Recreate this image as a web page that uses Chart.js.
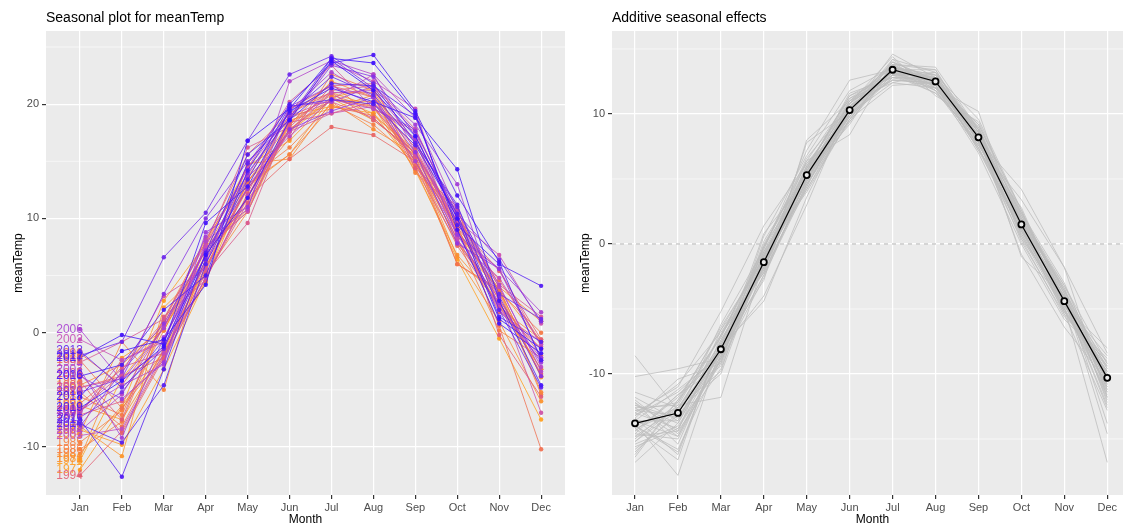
<!DOCTYPE html>
<html>
<head>
<meta charset="utf-8">
<script src="https://cdn.jsdelivr.net/npm/chart.js@4.4.0/dist/chart.umd.min.js"></script>
<style>
  html, body { margin: 0; padding: 0; background: #fff; overflow: hidden; width: 1123px; height: 527px; }
  canvas { position: absolute; top: 0; }
  #seasonal { left: 0; }
  #effects { left: 575px; }
</style>
</head>
<body>
<canvas id="seasonal" width="575" height="527"></canvas>
<canvas id="effects" width="568" height="527"></canvas>
<script>
const months = ['Jan', 'Feb', 'Mar', 'Apr', 'May', 'Jun', 'Jul', 'Aug', 'Sep', 'Oct', 'Nov', 'Dec'];

const years = [1976, 1977, 1978, 1979, 1980, 1981, 1982, 1983, 1984, 1985, 1986, 1987, 1988, 1989, 1990,
  1991, 1992, 1993, 1994, 1995, 1996, 1997, 1998, 1999, 2000, 2001, 2002, 2003, 2004, 2005, 2006, 2007,
  2008, 2009, 2010, 2011, 2012, 2013, 2014, 2015, 2016, 2017, 2018, 2019];

// monthly mean temperature, one row per year
const meanTemp = [
  [-11.2, -4.0, 0.5, 7.4, 10.8, 19.0, 19.8, 19.2, 14.4, 6.4, -0.5, -7.6],
  [-12.0, -6.5, 2.8, 7.8, 14.6, 16.8, 20.5, 18.6, 15.8, 7.8, 3.8, -3.9],
  [-8.5, -9.8, -3.2, 4.6, 13.2, 17.6, 20.4, 20.2, 15.0, 8.2, 2.4, -3.2],
  [-8.2, -10.8, 2.2, 5.8, 12.0, 17.8, 20.6, 19.2, 15.6, 8.8, 3.8, -0.8],
  [-6.4, -7.6, -1.6, 5.6, 12.8, 15.6, 20.6, 21.4, 15.4, 6.6, 1.0, -6.0],
  [-11.0, -2.2, 0.2, 6.8, 11.8, 18.2, 21.0, 19.8, 14.2, 6.8, 2.6, -3.2],
  [-10.6, -6.4, -1.6, 4.4, 14.8, 15.2, 20.2, 17.8, 15.6, 10.2, 4.0, 1.0],
  [-4.6, -2.8, 0.6, 5.2, 10.6, 18.2, 22.0, 20.6, 16.8, 9.0, 3.8, -5.2],
  [-8.8, -0.8, -5.0, 7.2, 10.6, 18.6, 19.6, 20.8, 14.0, 10.8, 2.2, -0.6],
  [-9.6, -6.8, 0.2, 7.2, 13.0, 15.6, 19.8, 19.0, 16.0, 9.0, 3.6, -5.4],
  [-10.2, -7.8, 0.8, 7.4, 13.4, 16.2, 20.0, 18.2, 15.0, 8.2, 0.2, -2.2],
  [-5.6, -7.2, 1.2, 8.2, 13.6, 19.0, 21.8, 18.8, 15.4, 6.0, 3.6, 0.0],
  [-5.2, -8.2, -1.4, 5.8, 12.6, 17.0, 22.6, 21.2, 15.0, 6.0, 3.8, -3.8],
  [-2.4, -6.6, -2.0, 5.4, 13.2, 18.4, 20.8, 19.6, 15.6, 9.4, 0.6, -10.2],
  [-1.8, -4.6, 0.4, 7.4, 11.2, 17.8, 20.4, 19.8, 15.0, 9.2, 4.6, -0.8],
  [-6.2, -3.2, 1.0, 8.0, 15.6, 19.2, 21.0, 21.0, 14.6, 9.6, 2.8, -2.0],
  [-4.8, -3.8, -2.2, 4.8, 11.8, 15.2, 18.0, 17.3, 15.0, 7.6, 2.4, -1.4],
  [-4.2, -8.8, -2.2, 6.4, 12.6, 17.6, 21.6, 20.6, 14.4, 7.8, 3.0, -3.6],
  [-12.5, -8.6, -2.0, 6.2, 11.8, 19.6, 21.0, 18.6, 15.8, 9.6, 5.4, -0.6],
  [-3.6, -7.6, 1.4, 4.6, 12.2, 19.6, 21.6, 21.8, 14.4, 11.0, -0.2, -5.6],
  [-7.2, -6.0, -2.4, 4.8, 11.4, 18.4, 19.2, 20.2, 16.2, 9.0, 1.8, -0.8],
  [-7.0, -3.0, -1.8, 5.2, 9.6, 18.8, 20.2, 18.8, 15.4, 8.8, 2.0, -1.4],
  [-2.6, -0.8, 1.2, 7.8, 16.2, 18.0, 21.2, 21.6, 17.8, 10.2, 4.2, 1.4],
  [-7.0, -2.4, -0.6, 7.6, 14.4, 20.2, 23.4, 19.6, 17.6, 8.4, 5.6, -1.2],
  [-6.8, -3.6, 3.2, 5.6, 12.8, 17.6, 19.2, 19.8, 15.6, 9.8, 3.0, -7.0],
  [-4.8, -4.0, -1.4, 7.6, 14.4, 19.0, 20.4, 22.6, 15.8, 9.8, 6.8, 0.8],
  [-0.6, -2.4, -0.8, 7.4, 10.6, 18.8, 23.6, 22.0, 19.6, 8.2, 2.2, -2.2],
  [-9.0, -8.4, -1.8, 4.8, 12.0, 17.6, 21.0, 21.2, 16.8, 8.0, 4.8, -1.0],
  [-8.6, -5.4, 0.6, 6.6, 13.6, 17.2, 20.4, 19.6, 17.8, 10.0, 4.0, -3.0],
  [-6.8, -4.6, -2.8, 8.0, 10.8, 22.0, 23.8, 22.6, 18.8, 10.6, 4.2, -3.4],
  [0.3, -4.2, 0.4, 8.4, 13.8, 19.4, 22.8, 20.6, 15.0, 8.6, 5.6, 1.8],
  [-3.2, -9.2, -0.4, 6.0, 14.8, 19.8, 20.2, 21.6, 18.2, 13.0, 2.0, -2.4],
  [-3.8, -5.8, -2.6, 8.8, 11.0, 19.8, 21.6, 20.0, 17.0, 8.6, 2.6, -2.6],
  [-8.2, -3.4, 0.8, 7.2, 12.6, 17.8, 19.4, 20.6, 15.8, 7.8, 5.6, -2.2],
  [-5.2, -4.0, 3.4, 10.0, 15.0, 18.6, 23.4, 22.4, 17.2, 10.0, 3.2, -3.8],
  [-7.4, -5.2, -0.6, 6.8, 14.0, 18.8, 24.0, 21.4, 17.6, 10.4, 6.4, 1.0],
  [-2.0, -0.8, 6.6, 10.5, 16.8, 22.6, 24.2, 21.8, 16.6, 11.0, 3.4, 1.2],
  [-1.6, -4.8, -1.4, 6.4, 14.8, 19.2, 22.4, 20.8, 16.6, 11.2, 2.0, -4.8],
  [-8.0, -9.6, -4.6, 6.0, 13.4, 19.8, 20.4, 20.0, 16.4, 10.4, 1.4, -0.8],
  [-7.6, -12.6, -3.2, 7.0, 15.6, 18.6, 21.8, 21.6, 19.0, 9.4, 6.0, 4.1],
  [-3.8, -2.8, 2.0, 5.0, 14.2, 20.0, 23.6, 24.3, 19.4, 12.0, 6.2, -2.4],
  [-2.2, -0.2, -1.0, 9.6, 12.8, 19.4, 21.4, 20.2, 18.8, 14.3, 2.8, -4.6],
  [-5.6, -1.6, -0.6, 4.2, 16.8, 19.6, 24.0, 23.6, 19.2, 9.0, 0.8, -1.8],
  [-6.6, -4.2, -1.2, 6.8, 11.8, 18.6, 23.8, 21.2, 17.2, 10.0, 1.2, -1.4]
];

// seasonal effect estimated for each year
const yearlyEffect = [
  [-15.2, -12.4, -7.0, -2.2, 4.6, 10.0, 13.0, 12.8, 8.8, 1.2, -4.8, -9.6],
  [-12.6, -14.8, -8.8, -0.6, 6.0, 10.8, 13.8, 12.0, 7.6, 2.0, -3.8, -11.2],
  [-13.4, -16.2, -7.4, -1.8, 5.8, 11.2, 13.2, 12.2, 8.0, 0.8, -5.0, -9.8],
  [-14.6, -11.6, -9.4, -0.8, 4.2, 9.6, 13.6, 13.0, 8.6, 1.8, -3.6, -10.8],
  [-11.8, -13.6, -8.0, -4.4, 3.6, 10.4, 12.6, 12.4, 9.2, 2.6, -4.2, -11.8],
  [-16.4, -12.0, -6.6, -1.0, 6.4, 8.4, 14.0, 11.8, 7.4, 0.4, -5.6, -8.8],
  [-13.0, -14.2, -9.0, 0.2, 5.6, 11.6, 12.8, 12.6, 8.4, 1.4, -4.4, -12.6],
  [-14.2, -12.8, -8.4, -1.6, 4.8, 10.2, 13.4, 13.4, 7.8, 2.2, -3.2, -9.2],
  [-12.2, -15.4, -7.8, -2.0, 5.4, 9.2, 14.2, 12.0, 10.2, 0.6, -5.2, -10.4],
  [-15.8, -13.2, -6.2, -0.4, 6.6, 10.6, 13.2, 11.6, 8.2, 1.0, -4.0, -11.4],
  [-13.6, -11.2, -8.6, -2.4, 4.4, 11.0, 13.6, 12.8, 7.2, 2.8, -4.6, -10.0],
  [-14.8, -14.4, -9.6, -1.2, 5.2, 10.0, 12.4, 13.2, 8.8, 1.6, -3.4, -12.2],
  [-12.8, -12.2, -7.2, -0.2, 6.2, 9.4, 13.8, 12.4, 8.0, 0.2, -5.4, -9.4],
  [-16.8, -13.8, -8.2, -4.0, 3.0, 10.8, 14.4, 11.4, 9.4, 2.4, -3.0, -10.6],
  [-11.4, -12.6, -7.6, -0.8, 5.8, 11.4, 12.8, 12.8, 8.6, 1.2, -4.8, -16.8],
  [-14.0, -15.8, -8.8, -1.4, 5.0, 10.2, 13.2, 12.0, 7.6, 3.4, -1.8, -8.4],
  [-13.2, -10.8, -6.8, -2.2, 4.6, 9.8, 13.0, 13.0, 8.2, 1.8, -4.2, -11.0],
  [-15.4, -14.0, -9.2, 0.6, 6.8, 11.8, 13.6, 12.2, 7.0, 0.0, -5.8, -9.0],
  [-12.4, -13.4, -8.4, -1.8, 5.4, 10.6, 14.0, 12.6, 9.0, 2.0, -4.4, -10.2],
  [-14.4, -11.8, -7.2, -0.6, 4.0, 9.6, 12.2, 12.4, 8.4, 1.4, -3.8, -12.0],
  [-8.6, -12.8, -10.0, -1.0, 5.6, 10.4, 13.4, 11.8, 7.8, 0.8, -5.0, -10.4],
  [-13.8, -17.8, -8.0, -2.8, 8.0, 11.0, 13.8, 13.6, 8.8, 2.2, -3.6, -9.6],
  [-15.0, -12.2, -6.4, -1.2, 6.0, 10.0, 12.8, 12.6, 8.2, 1.6, -4.6, -11.6],
  [-12.0, -14.6, -8.6, 0.8, 5.0, 10.8, 13.2, 12.2, 7.4, 1.0, -4.0, -10.8],
  [-16.0, -13.0, -7.8, -1.6, 4.8, 9.6, 13.6, 13.0, 9.6, 2.6, -5.2, -9.8],
  [-13.4, -10.4, -9.2, -0.2, 6.4, 11.2, 12.6, 12.4, 8.0, 0.6, -4.4, -12.4],
  [-14.2, -16.6, -7.0, -2.0, 5.8, 10.2, 14.6, 12.8, 8.4, 1.8, -3.2, -10.2],
  [-12.6, -12.4, -11.8, -1.4, 4.4, 10.6, 13.0, 11.6, 8.8, 1.2, -4.8, -8.0],
  [-15.6, -14.2, -8.2, -0.4, 7.2, 12.6, 13.4, 12.4, 7.6, 2.4, -4.2, -11.2],
  [-13.0, -11.0, -5.2, 1.4, 6.2, 10.4, 13.8, 13.4, 8.2, -0.8, -6.4, -10.6],
  [-14.6, -15.0, -8.6, -2.4, 5.0, 9.8, 12.8, 12.0, 9.2, 2.2, -3.8, -13.8],
  [-10.2, -9.6, -8.8, -1.0, 5.6, 10.8, 13.2, 12.8, 7.8, 1.0, -4.6, -9.4],
  [-13.6, -13.6, -7.4, -1.8, 4.2, 10.0, 13.6, 12.6, 8.6, 1.6, -4.0, -10.0],
  [-14.8, -12.6, -9.8, 0.0, 5.4, 11.0, 13.0, 12.2, 8.0, 4.2, -1.8, -11.8],
  [-12.2, -14.4, -6.6, -2.2, 7.8, 10.2, 14.2, 13.2, 7.4, 1.4, -5.4, -12.8],
  [-16.2, -12.0, -8.0, -1.2, 5.2, 10.6, 12.6, 12.4, 8.8, 0.4, -4.2, -9.2],
  [-13.2, -11.4, -8.4, -0.8, 4.6, 9.4, 13.4, 12.8, 8.2, 2.0, -3.4, -10.6],
  [-14.0, -16.0, -7.6, -1.6, 5.8, 11.4, 13.2, 11.8, 9.0, 1.2, -5.0, -11.4],
  [-12.8, -13.2, -9.0, -2.6, 5.0, 10.0, 14.0, 12.6, 7.8, 1.8, -4.6, -8.6],
  [-15.2, -12.8, -7.0, -0.6, 4.8, 10.6, 13.0, 13.2, 8.6, -1.0, -4.0, -14.6],
  [-13.6, -14.8, -8.2, -1.4, 6.0, 11.0, 12.4, 12.0, 8.4, 2.4, -3.6, -10.2],
  [-14.4, -11.6, -8.8, -1.8, 5.4, 9.8, 13.6, 12.6, 7.2, 1.0, -5.2, -9.8],
  [-12.4, -13.8, -7.8, -0.2, 5.0, 10.4, 13.4, 12.4, 8.6, 1.6, -4.4, -11.0],
  [-14.0, -12.6, -8.4, -1.4, 5.6, 10.4, 13.2, 12.6, 8.2, 1.4, -4.6, -10.2]
];

// overall additive seasonal effect
const seasonalEffect = [-13.8, -13.0, -8.1, -1.4, 5.3, 10.3, 13.4, 12.5, 8.2, 1.5, -4.4, -10.3];

const leftMajor = [-10, 0, 10, 20];
const leftMinor = [-5, 5, 15, 25];
const rightMajor = [-10, 0, 10];
const rightMinor = [-15, -5, 5, 15];

Chart.defaults.font.family = '"Liberation Sans", Arial, sans-serif';
Chart.defaults.animation = false;

// year colour ramp: orange -> pink -> purple -> blue
const rampStops = [
  [0.0, [255, 160, 32]],
  [0.25, [245, 122, 69]],
  [0.45, [224, 90, 122]],
  [0.6, [200, 80, 184]],
  [0.75, [154, 58, 224]],
  [0.88, [90, 34, 240]],
  [1.0, [58, 16, 255]],
];

function yearColor(i, alpha) {
  const t = i / (years.length - 1);
  let k = 0;
  while (k < rampStops.length - 2 && t > rampStops[k + 1][0]) k++;
  const [t0, c0] = rampStops[k];
  const [t1, c1] = rampStops[k + 1];
  const f = (t - t0) / (t1 - t0);
  const c = c0.map((v, j) => Math.round(v + (c1[j] - v) * f));
  return `rgba(${c[0]},${c[1]},${c[2]},${alpha})`;
}

const toPoints = row => row.map((v, m) => ({ x: m + 1, y: v }));

// grey panel, minor grid, title
const panelPlugin = {
  id: 'panel',
  beforeDraw(chart, args, opts) {
    const { ctx, chartArea: a, scales: { y } } = chart;
    ctx.save();
    ctx.fillStyle = '#EBEBEB';
    ctx.fillRect(a.left, a.top, a.right - a.left, a.bottom - a.top);
    ctx.strokeStyle = '#FFFFFF';
    ctx.lineWidth = 0.6;
    for (const v of opts.minor) {
      const py = y.getPixelForValue(v);
      ctx.beginPath();
      ctx.moveTo(a.left, py);
      ctx.lineTo(a.right, py);
      ctx.stroke();
    }
    ctx.fillStyle = '#000';
    ctx.font = '14px "Liberation Sans", Arial, sans-serif';
    ctx.textBaseline = 'middle';
    ctx.fillText(opts.title, a.left, 18);
    ctx.restore();
  },
  beforeDatasetsDraw(chart, args, opts) {
    if (opts.zeroLine === undefined) return;
    const { ctx, chartArea: a, scales: { y } } = chart;
    const py = y.getPixelForValue(opts.zeroLine);
    ctx.save();
    ctx.strokeStyle = '#B3B3B3';
    ctx.lineWidth = 1;
    ctx.setLineDash([4, 4]);
    ctx.beginPath();
    ctx.moveTo(a.left, py);
    ctx.lineTo(a.right, py);
    ctx.stroke();
    ctx.restore();
  },
};

// year labels to the left of January
const yearLabelPlugin = {
  id: 'yearLabels',
  afterDatasetsDraw(chart) {
    const { ctx, scales: { x, y } } = chart;
    ctx.save();
    ctx.font = '12px "Liberation Sans", Arial, sans-serif';
    ctx.textAlign = 'right';
    ctx.textBaseline = 'middle';
    years.forEach((yr, i) => {
      ctx.fillStyle = yearColor(i, 0.9);
      ctx.fillText(String(yr), x.getPixelForValue(1) + 3, y.getPixelForValue(meanTemp[i][0]));
    });
    ctx.restore();
  },
};

function axes(xMin, xMax, yMin, yMax, yTicks, yWidth, yTitlePad) {
  const tickFont = { size: 11 };
  const grid = { color: '#FFFFFF', lineWidth: 1.2, tickColor: '#333333', tickLength: 4 };
  return {
    x: {
      type: 'linear', min: xMin, max: xMax,
      afterBuildTicks: s => { s.ticks = months.map((m, i) => ({ value: i + 1 })); },
      afterFit: s => { s.height = 32; },
      ticks: { callback: v => months[v - 1], color: '#4D4D4D', font: tickFont, padding: 2, maxRotation: 0, autoSkip: false },
      grid, border: { display: false },
      title: { display: true, text: 'Month', color: '#000', font: { size: 12 }, padding: { top: 0, bottom: 0 } },
    },
    y: {
      type: 'linear', min: yMin, max: yMax,
      afterBuildTicks: s => { s.ticks = yTicks.map(v => ({ value: v })); },
      afterFit: s => { s.width = yWidth; },
      ticks: { color: '#4D4D4D', font: tickFont, padding: 3 },
      grid, border: { display: false },
      title: { display: true, text: 'meanTemp', color: '#000', font: { size: 12 }, padding: { top: yTitlePad, bottom: 0 } },
    },
  };
}

new Chart(document.getElementById('seasonal'), {
  type: 'line',
  data: {
    // later years drawn on top
    datasets: meanTemp.map((row, i) => ({
      label: String(years[i]),
      data: toPoints(row),
      order: -i,
      borderColor: yearColor(i, 0.8),
      backgroundColor: yearColor(i, 0.95),
      borderWidth: 1,
      pointRadius: 2.2,
      pointBorderWidth: 0,
      tension: 0,
    })),
  },
  options: {
    responsive: false,
    devicePixelRatio: 1,
    layout: { padding: { top: 31, right: 10, left: 0, bottom: 0 } },
    scales: axes(0.19, 12.57, -14.2, 26.4, leftMajor, 46, 11),
    plugins: {
      legend: { display: false },
      tooltip: { enabled: false },
      panel: { minor: leftMinor, title: 'Seasonal plot for meanTemp' },
    },
  },
  plugins: [panelPlugin, yearLabelPlugin],
});

new Chart(document.getElementById('effects'), {
  type: 'line',
  data: {
    datasets: [
      ...yearlyEffect.map((row, i) => ({
        label: String(years[i]),
        data: toPoints(row),
        order: 1,
        borderColor: '#BEBEBE',
        borderWidth: 0.8,
        pointRadius: 0,
        tension: 0,
      })),
      {
        label: 'effect',
        data: toPoints(seasonalEffect),
        order: 0,
        borderColor: '#000000',
        borderWidth: 1.2,
        pointRadius: 3,
        pointBorderWidth: 1.8,
        pointBorderColor: '#000000',
        pointBackgroundColor: '#EBEBEB',
        tension: 0,
      },
    ],
  },
  options: {
    responsive: false,
    devicePixelRatio: 1,
    layout: { padding: { top: 31, right: 10, left: 0, bottom: 0 } },
    scales: axes(0.464, 12.6, -19.31, 16.38, rightMajor, 37, 3),
    plugins: {
      legend: { display: false },
      tooltip: { enabled: false },
      panel: { minor: rightMinor, title: 'Additive seasonal effects', zeroLine: 0 },
    },
  },
  plugins: [panelPlugin],
});
</script>
</body>
</html>
